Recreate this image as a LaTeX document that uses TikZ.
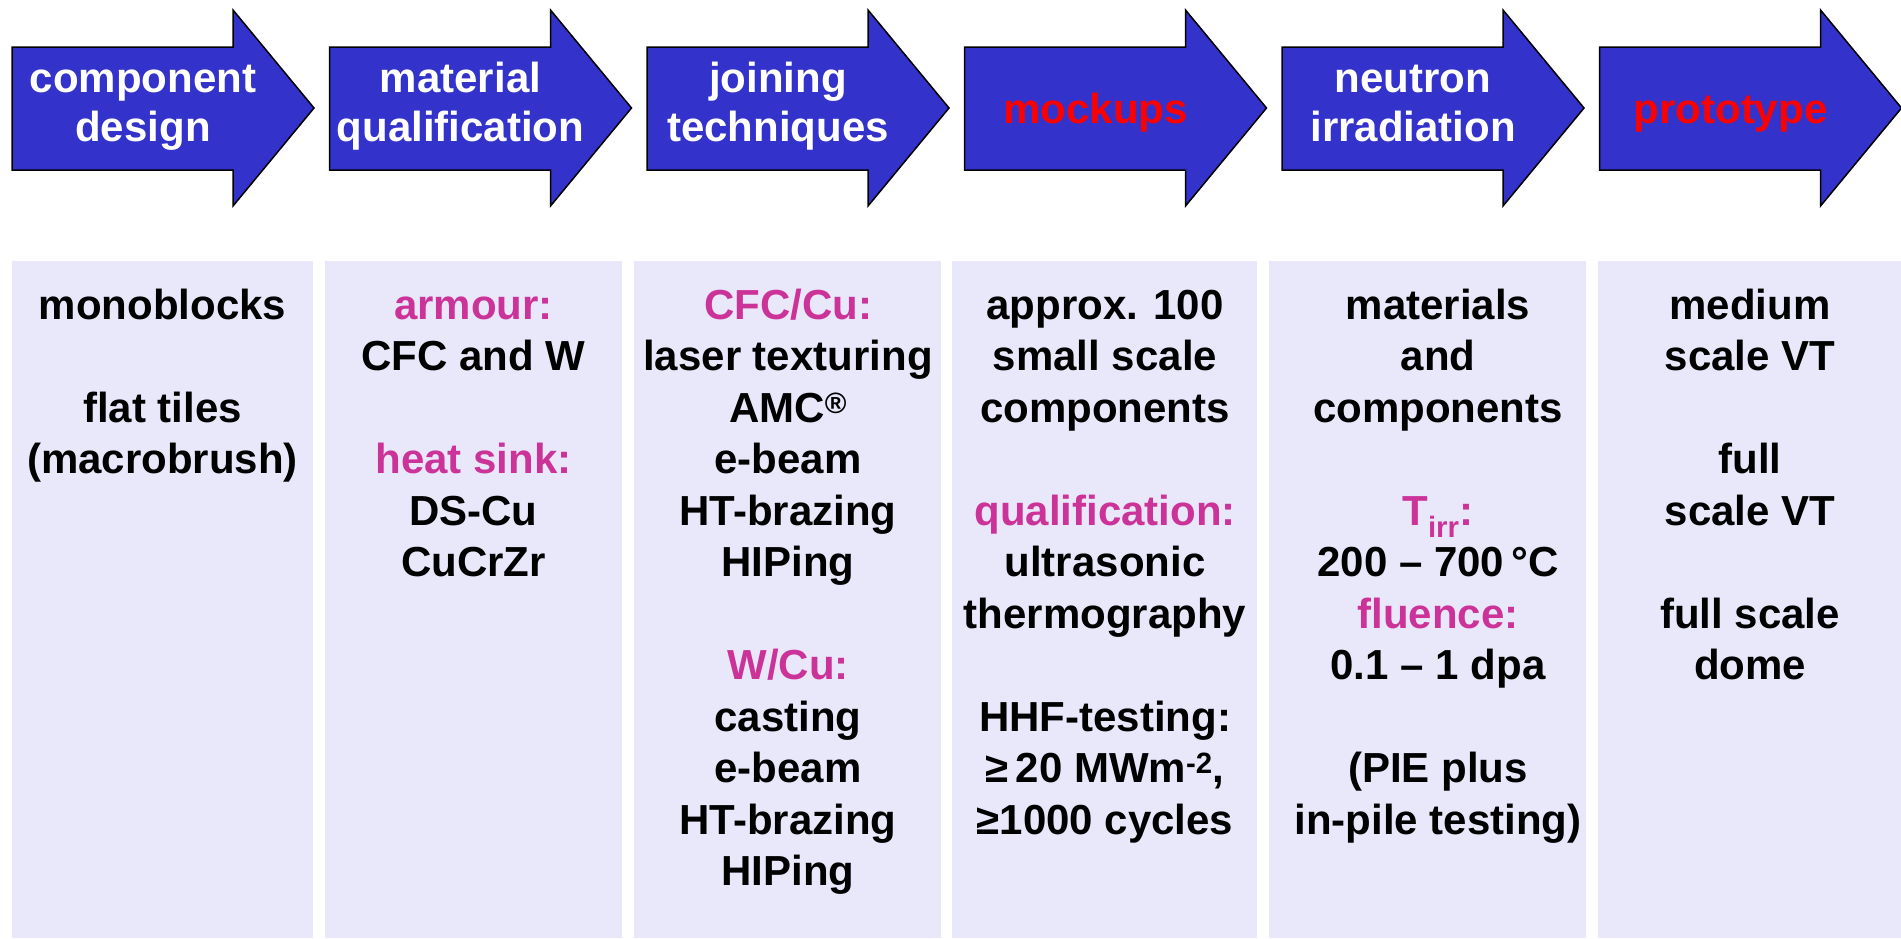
\documentclass[tikz,border=0pt]{standalone}
\usepackage{fontspec}
\setmainfont{Liberation Sans}
\definecolor{arrowblue}{HTML}{3333CC}
\definecolor{boxfill}{HTML}{E8E8FA}
\definecolor{mag}{HTML}{CC3399}
\definecolor{hred}{HTML}{FF0000}
\newcommand\mkarrow[1]{%
  \draw[procarrow] (#1,-47) -- (#1+221,-47) -- (#1+221,-10) -- (#1+302,-108)
    -- (#1+221,-206) -- (#1+221,-170) -- (#1,-170) -- cycle;}
\begin{document}
\begin{tikzpicture}[x=1pt,y=1pt,
  procarrow/.style={fill=arrowblue,draw=black,line width=1.5pt,line join=miter},
  colbox/.style={fill=boxfill,draw=none},
  headtext/.style={text=white,font=\fontsize{42}{49}\selectfont\bfseries,align=center,anchor=north,inner sep=0pt},
  headone/.style={text=hred,font=\fontsize{42}{49}\selectfont\bfseries,anchor=base,inner sep=0pt},
  celltext/.style={text=black,font=\fontsize{42}{51.5}\selectfont\bfseries,align=center,anchor=north,inner sep=0pt}]
\useasboundingbox (0,0) rectangle (1901,-938);
\fill[white] (0,0) rectangle (1901,-938);
% process arrows
\mkarrow{12}
\mkarrow{329.5}
\mkarrow{647}
\mkarrow{964.5}
\mkarrow{1282}
\mkarrow{1599.5}
\node[headtext] (h1) at (143,-57.7) {\strut component\\design};
\node[headtext] (h2) at (460.5,-57.7) {\strut material\\qualification};
\node[headtext] (h3) at (778,-57.7) {\strut joining\\techniques};
\node[headone] (h4) at (1095.5,-123) {mockups};
\node[headtext] (h5) at (1413,-57.7) {\strut neutron\\irradiation};
\node[headone] (h6) at (1730.5,-123) {prototype};
% columns
\path[colbox] (12,-261) rectangle (313,-938);
\path[colbox] (325,-261) rectangle (622,-938);
\path[colbox] (634,-261) rectangle (941,-938);
\path[colbox] (952,-261) rectangle (1257,-938);
\path[colbox] (1269,-261) rectangle (1586,-938);
\path[colbox] (1598,-261) rectangle (1901,-938);
\node[celltext] (c1) at (162.5,-283) {\strut monoblocks\\[51.5pt]flat tiles\\(macrobrush)};
\node[celltext] (c2) at (473.5,-283) {\strut\textcolor{mag}{armour:}\\CFC and W\\[51.5pt]\textcolor{mag}{heat sink:}\\DS-Cu\\CuCrZr};
\node[celltext] (c3) at (788,-283) {\strut\textcolor{mag}{CFC/Cu:}\\laser texturing\\AMC\textsuperscript{®}\\e-beam\\HT-brazing\\HIPing\\[51.5pt]\textcolor{mag}{W/Cu:}\\casting\\e-beam\\HT-brazing\\HIPing};
\node[celltext] (c4) at (1105,-283) {\strut approx. 100\\small scale\\components\\[51.5pt]\textcolor{mag}{qualification:}\\ultrasonic\\thermography\\[51.5pt]HHF-testing:\\≥\,20 MWm\textsuperscript{-2},\\≥1000 cycles};
\node[celltext] (c5) at (1438,-283) {\strut materials\\and\\components\\[51.5pt]\textcolor{mag}{T\textsubscript{irr}:}\\200 – 700\,°C\\\textcolor{mag}{fluence:}\\0.1 – 1 dpa\\[51.5pt](PIE plus\\in-pile testing)};
\node[celltext] (c6) at (1750,-283) {\strut medium\\scale VT\\[51.5pt]full\\scale VT\\[51.5pt]full scale\\dome};
\end{tikzpicture}
\end{document}
